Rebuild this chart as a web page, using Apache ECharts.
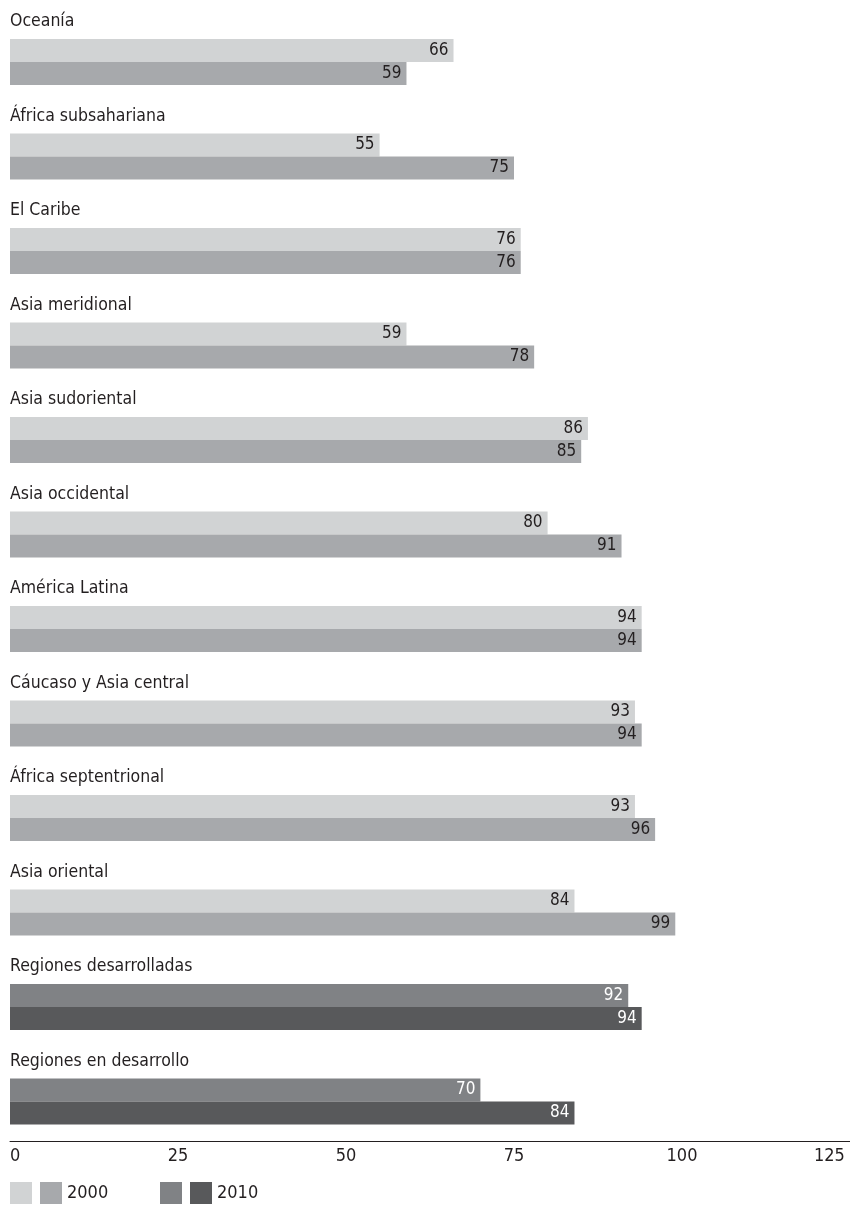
<!DOCTYPE html>
<html>
<head>
<meta charset="utf-8">
<script src="https://cdn.jsdelivr.net/npm/echarts@6/dist/echarts.min.js"></script>
<style>
  html, body { margin: 0; padding: 0; background: #ffffff; }
  #chart { width: 850px; height: 1205px; }
</style>
</head>
<body>
<div id="chart"></div>
<script>
// Regions, top to bottom
const regions = [
  'Oceanía',
  'África subsahariana',
  'El Caribe',
  'Asia meridional',
  'Asia sudoriental',
  'Asia occidental',
  'América Latina',
  'Cáucaso y Asia central',
  'África septentrional',
  'Asia oriental',
  'Regiones desarrolladas',
  'Regiones en desarrollo'
];
const values2000 = [66, 55, 76, 59, 86, 80, 94, 93, 93, 84, 92, 70];
const values2010 = [59, 75, 76, 78, 85, 91, 94, 94, 96, 99, 94, 84];
// The last two rows are aggregates and use the darker palette
const aggregateRows = [10, 11];
const xTicks = { min: 0, max: 125, interval: 25 };

const FONT = '"DejaVu Sans Condensed", "Liberation Sans Narrow", sans-serif';
const TEXT = '#231f20';
const COLORS = {
  r2000: '#d1d3d4',
  r2010: '#a7a9ac',
  a2000: '#808285',
  a2010: '#58595b'
};

function pick(values, aggregate) {
  return values.map((v, i) => (aggregateRows.includes(i) === aggregate ? v : '-'));
}

function barSeries(name, stack, values, color, labelColor) {
  return {
    name: name,
    type: 'bar',
    stack: stack,
    data: values,
    barWidth: 23,
    barGap: '0%',
    itemStyle: { color: color },
    label: {
      show: true,
      position: 'insideRight',
      distance: 5,
      color: labelColor,
      fontFamily: FONT,
      fontSize: 17,
      formatter: p => p.value
    },
    emphasis: { disabled: true },
    silent: true
  };
}

const chart = echarts.init(document.getElementById('chart'), null, { renderer: 'canvas' });

const legendText = { fontFamily: FONT, fontSize: 18, color: TEXT };

function legendBlock(names, left, shownName, text) {
  return {
    data: names,
    left: left,
    top: 1182,
    padding: 0,
    orient: 'horizontal',
    itemWidth: 22,
    itemHeight: 22,
    itemGap: 8,
    icon: 'rect',
    selectedMode: false,
    textStyle: legendText,
    formatter: n => (n === shownName ? text : '')
  };
}

chart.setOption({
  animation: false,
  backgroundColor: '#ffffff',
  textStyle: { fontFamily: FONT },
  grid: {
    left: 10, right: 0, top: 14.75, bottom: 56.25,
    containLabel: false,
    outerBoundsMode: 'none'
  },
  legend: [
    legendBlock(['Regiones 2000', 'Regiones 2010'], 10, 'Regiones 2010', '2000'),
    legendBlock(['Agregado 2000', 'Agregado 2010'], 160, 'Agregado 2010', '2010')
  ],
  xAxis: {
    type: 'value',
    min: xTicks.min,
    max: xTicks.max,
    interval: xTicks.interval,
    offset: -8,
    axisLine: { show: true, onZero: false, lineStyle: { color: TEXT, width: 1 } },
    axisTick: { show: false },
    splitLine: { show: false },
    axisLabel: {
      color: TEXT,
      fontFamily: FONT,
      fontSize: 18,
      margin: 7,
      alignMinLabel: 'left',
      alignMaxLabel: 'right',
      formatter: v => (v === xTicks.max ? v + ' ' : String(v))
    }
  },
  yAxis: {
    type: 'category',
    inverse: true,
    data: regions,
    z: 5,
    axisLine: { show: false },
    axisTick: { show: false },
    axisLabel: {
      inside: true,
      margin: 0,
      color: TEXT,
      fontFamily: FONT,
      fontSize: 17.5,
      align: 'left',
      verticalAlign: 'bottom',
      lineHeight: 81
    }
  },
  series: [
    barSeries('Regiones 2000', 's2000', pick(values2000, false), COLORS.r2000, TEXT),
    barSeries('Agregado 2000', 's2000', pick(values2000, true), COLORS.a2000, '#ffffff'),
    barSeries('Regiones 2010', 's2010', pick(values2010, false), COLORS.r2010, TEXT),
    barSeries('Agregado 2010', 's2010', pick(values2010, true), COLORS.a2010, '#ffffff')
  ]
});
</script>
</body>
</html>
